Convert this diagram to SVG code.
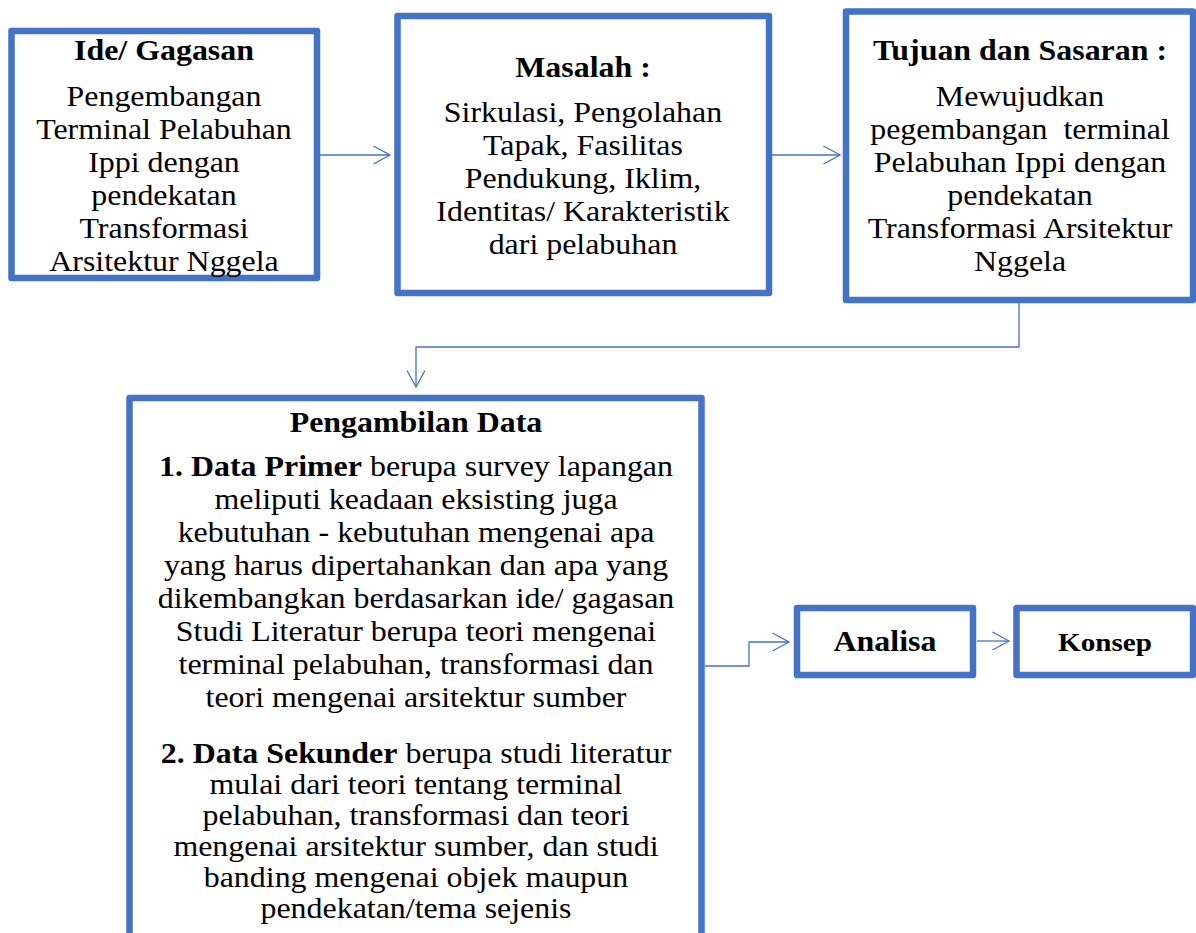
<svg xmlns="http://www.w3.org/2000/svg" width="1196" height="933" viewBox="0 0 1196 933">
<style>
text{font-family:'Liberation Serif',serif;font-size:28.5px;fill:#000;text-anchor:middle}
.b{font-weight:bold}
.box{fill:#fff;stroke:#4472C4;stroke-width:6.5;stroke-linejoin:round}
.c{fill:none;stroke:#4472C4;stroke-width:1.3}
</style>
<defs>
<marker id="arr" viewBox="0 0 19 20" refX="17.5" refY="10" markerWidth="19" markerHeight="20" markerUnits="userSpaceOnUse" orient="auto">
<path d="M1,1 L17.5,10 L1,19" fill="none" stroke="#4472C4" stroke-width="1.3"/>
</marker>
</defs>
<rect width="1196" height="933" fill="#fff"/>
<g id="connectors">
<path class="c" d="M320,155 H390" marker-end="url(#arr)"/>
<path class="c" d="M771,155 H840" marker-end="url(#arr)"/>
<path class="c" d="M1019,300 V347 H416 V387" marker-end="url(#arr)"/>
<path class="c" d="M705,666 H749 V642 H789" marker-end="url(#arr)"/>
<path class="c" d="M977,641 H1009" marker-end="url(#arr)"/>
</g>
<g id="ide">
<rect class="box" x="11.5" y="31" width="305.5" height="247"/>
<g transform="translate(164,0) scale(1.12,1)" font-family="Liberation Serif">
<text class="b" x="0" y="60">Ide/ Gagasan</text>
<text x="0" y="106">Pengembangan</text>
<text x="0" y="139">Terminal Pelabuhan</text>
<text x="0" y="172">Ippi dengan</text>
<text x="0" y="205">pendekatan</text>
<text x="0" y="238">Transformasi</text>
<text x="0" y="271">Arsitektur Nggela</text>
</g>
</g>
<g id="masalah">
<rect class="box" x="397.5" y="16" width="371.5" height="277"/>
<g transform="translate(583,0) scale(1.12,1)">
<text class="b" x="0" y="77">Masalah :</text>
<text x="0" y="122">Sirkulasi, Pengolahan</text>
<text x="0" y="155">Tapak, Fasilitas</text>
<text x="0" y="188">Pendukung, Iklim,</text>
<text x="0" y="221">Identitas/ Karakteristik</text>
<text x="0" y="254">dari pelabuhan</text>
</g>
</g>
<g id="tujuan">
<rect class="box" x="846" y="11.5" width="347" height="288.5"/>
<g transform="translate(1020,0) scale(1.12,1)">
<text class="b" x="0" y="60">Tujuan dan Sasaran :</text>
<text x="0" y="106">Mewujudkan</text>
<text x="0" y="139" style="white-space:pre">pegembangan  terminal</text>
<text x="0" y="172">Pelabuhan Ippi dengan</text>
<text x="0" y="205">pendekatan</text>
<text x="0" y="238">Transformasi Arsitektur</text>
<text x="0" y="271">Nggela</text>
</g>
</g>
<g id="pengambilan">
<rect class="box" x="129.5" y="398" width="572" height="560"/>
<g transform="translate(416,0) scale(1.12,1)">
<text class="b" x="0" y="432">Pengambilan Data</text>
<text x="0" y="476"><tspan class="b">1. Data Primer</tspan> berupa survey lapangan</text>
<text x="0" y="509">meliputi keadaan eksisting juga</text>
<text x="0" y="542">kebutuhan - kebutuhan mengenai apa</text>
<text x="0" y="575">yang harus dipertahankan dan apa yang</text>
<text x="0" y="608">dikembangkan berdasarkan ide/ gagasan</text>
<text x="0" y="641">Studi Literatur berupa teori mengenai</text>
<text x="0" y="674">terminal pelabuhan, transformasi dan</text>
<text x="0" y="707">teori mengenai arsitektur sumber</text>
<text x="0" y="763"><tspan class="b">2. Data Sekunder</tspan> berupa studi literatur</text>
<text x="0" y="794">mulai dari teori tentang terminal</text>
<text x="0" y="825">pelabuhan, transformasi dan teori</text>
<text x="0" y="856">mengenai arsitektur sumber, dan studi</text>
<text x="0" y="887">banding mengenai objek maupun</text>
<text x="0" y="918">pendekatan/tema sejenis</text>
</g>
</g>
<g id="analisa">
<rect class="box" x="797" y="608" width="176" height="67"/>
<g transform="translate(885,0) scale(1.12,1)">
<text class="b" x="0" y="651">Analisa</text>
</g>
</g>
<g id="konsep">
<rect class="box" x="1016.5" y="608" width="176.5" height="67"/>
<g transform="translate(1105,0) scale(1.12,1)">
<text class="b" x="0" y="651" style="font-size:26px">Konsep</text>
</g>
</g>
</svg>
